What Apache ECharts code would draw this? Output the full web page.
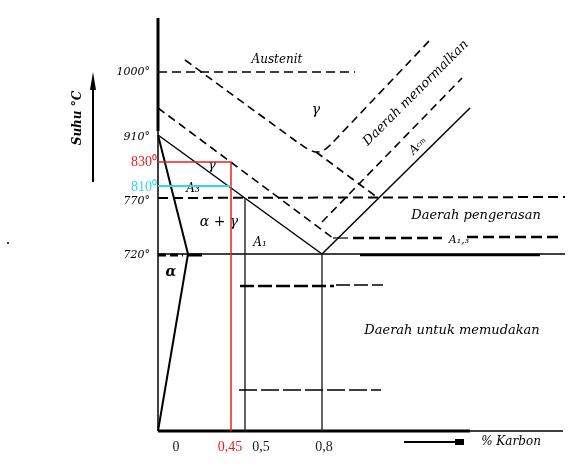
<!DOCTYPE html>
<html>
<head>
    <meta charset="UTF-8">
    <title></title>
    <script src="https://cdn.jsdelivr.net/npm/echarts@6/dist/echarts.min.js"></script>
    <style>
        html, body { margin: 0; padding: 0; background: #fff; }
        #container { width: 572px; height: 470px; }
    </style>
</head>
<body>
    <div id="container"></div>
    <script type="text/javascript">
        // diagram units: x runs right from the temperature axis, y runs up from the carbon axis
        var yLevels = [359, 294, 269, 244, 230, 176];
        var yLabels = ['1000°', '910°', '830⁰', '810⁰', '770°', '720°'];
        var xLevels = [18, 72, 103, 166];
        var xLabels = ['0', '0,45', '0,5', '0,8'];

        var axisY = [[0, 413], [0, 0]];
        var axisYTop = [[0, 413], [0, 300]];
        var axisX = [[0, 0], [405, 0]];
        var axisXThick = [[0, 0], [312, 0]];

        var alphaLine = [[0, 296], [30, 177], [0, 0]];
        var a3Line = [[0, 296], [164, 177]];
        var acmLine = [[164, 177], [312, 323]];
        var line1000 = [[0, 359], [197, 359]];
        var line770 = [[0, 233], [407, 234]];
        var line720 = [[0, 177], [407, 177]];
        var line720Dash = [[0, 176], [25, 176]];
        var line720Bold = [[30, 176], [44, 176]];
        var line720Under = [[202, 176], [382, 176]];
        var normUpper = [[27, 371], [135, 292], [145, 285], [152, 281], [158, 279], [164, 280], [170, 284], [178, 292], [272, 391]];
        var normLower = [[158, 279], [220, 233]];
        var upperA3 = [[0, 323], [175, 193]];
        var acmShift = [[164, 209], [304, 353]];
        var a13Thin = [[175, 193], [190, 193]];
        var a13Left = [[195, 193], [284, 193]];
        var a13Right = [[309, 194], [402, 194]];
        var c05 = [[87, 233], [87, 0]];
        var c08 = [[164, 177], [164, 0]];
        var red045 = [[0, 269], [73, 269], [73, 0]];
        var cyan810 = [[0, 245], [73, 245]];
        var temperThick = [[82, 145], [176, 145]];
        var temperThin = [[178, 146], [225, 146]];
        var temperLow = [[81, 41], [223, 41]];

        function seg(data, color, width, type, extra) {
            var s = {
                type: 'line',
                data: data,
                symbol: 'none',
                clip: false,
                silent: true,
                lineStyle: { color: color, width: width, type: type || 'solid' }
            };
            if (extra) {
                for (var k in extra) s[k] = extra[k];
            }
            return s;
        }

        var serif = 'DejaVu Serif';
        var times = 'Liberation Serif';

        function txt(x, y, text, size, opts) {
            opts = opts || {};
            return {
                type: 'text',
                x: x,
                y: y,
                rotation: opts.rotation || 0,
                style: {
                    text: text,
                    fontSize: size,
                    fontFamily: opts.family || serif,
                    fontStyle: opts.upright ? 'normal' : 'italic',
                    fontWeight: opts.weight || 'normal',
                    fill: opts.color || '#000',
                    align: 'center',
                    verticalAlign: 'middle',
                    rich: opts.rich
                }
            };
        }

        var colorOf = { '830⁰': 'red', '810⁰': 'cyan', '0,45': 'red' };

        var option = {
            animation: false,
            backgroundColor: '#fff',
            grid: { left: 158, top: 16, width: 410, height: 415 },
            xAxis: {
                type: 'value',
                min: 0,
                max: 410,
                axisLine: { show: false },
                axisTick: { show: false },
                splitLine: { show: false },
                axisLabel: {
                    customValues: xLevels,
                    margin: 9,
                    formatter: function (v) {
                        var t = xLabels[xLevels.indexOf(v)];
                        return '{' + (colorOf[t] || 'plain') + '|' + t + '}';
                    },
                    rich: {
                        plain: { fontFamily: times, fontSize: 14, color: '#222' },
                        red: { fontFamily: times, fontSize: 14, color: '#e8201c' }
                    }
                }
            },
            yAxis: {
                type: 'value',
                min: 0,
                max: 415,
                axisLine: { show: false },
                axisTick: { show: false },
                splitLine: { show: false },
                axisLabel: {
                    customValues: yLevels,
                    margin: 1,
                    formatter: function (v) {
                        var t = yLabels[yLevels.indexOf(v)];
                        return '{' + (colorOf[t] || 'plain') + '|' + t + '}';
                    },
                    rich: {
                        plain: { fontFamily: serif, fontStyle: 'italic', fontSize: 11, color: '#000', padding: [0, 7, 0, 0] },
                        red: { fontFamily: times, fontSize: 14, color: '#e8201c' },
                        cyan: { fontFamily: times, fontSize: 14, color: '#2ad8e8' }
                    }
                }
            },
            series: [
                seg(axisY, '#000', 1.5),
                seg(axisYTop, '#000', 3),
                seg(axisX, '#000', 1.3),
                seg(axisXThick, '#000', 3),
                seg(line720, '#000', 1.3),
                seg(line720Dash, '#000', 3, [8, 4]),
                seg(line720Bold, '#000', 3),
                seg(line720Under, '#000', 2.5),
                seg(line770, '#000', 2, [10, 5]),
                seg(line1000, '#000', 1.5, [9, 5]),
                seg(alphaLine, '#000', 2),
                seg(a3Line, '#000', 1.5),
                seg(acmLine, '#000', 1.5),
                seg(normUpper, '#000', 1.6, [8, 5], { smooth: 0.4 }),
                seg(normLower, '#000', 1.6, [8, 5]),
                seg(upperA3, '#000', 1.6, [8, 5]),
                seg(acmShift, '#000', 1.6, [8, 5]),
                seg(a13Thin, '#000', 1.2),
                seg(a13Left, '#000', 2.5, [11, 5]),
                seg(a13Right, '#000', 2.5, [11, 5]),
                seg(c05, '#222', 1.4),
                seg(c08, '#222', 1.4),
                seg(temperThick, '#000', 2.5, [14, 4]),
                seg(temperThin, '#000', 1.3, [14, 4]),
                seg(temperLow, '#000', 1.3, [18, 4]),
                seg(red045, '#e8201c', 1.5),
                seg(cyan810, '#2ad8e8', 1.8)
            ],
            graphic: [
                txt(277, 60, 'Austenit', 12),
                txt(316, 110, 'γ', 14),
                txt(212, 166, 'γ', 13),
                txt(193, 189, 'A₃', 12),
                txt(219, 222, 'α + γ', 14),
                txt(260, 243, 'A₁', 12),
                txt(171, 272, 'α', 14, { weight: 'bold' }),
                txt(416, 93, 'Daerah menormalkan', 13, { rotation: Math.PI / 4 }),
                txt(418, 146, '{a|A}{s|cm}', 12, {
                    rotation: Math.PI / 4,
                    rich: {
                        a: { fontFamily: serif, fontStyle: 'italic', fontSize: 12 },
                        s: { fontFamily: serif, fontStyle: 'italic', fontSize: 7 }
                    }
                }),
                txt(476, 216, 'Daerah pengerasan', 13),
                txt(459, 240, 'A₁,₃', 11),
                txt(452, 331, 'Daerah untuk memudakan', 13),
                txt(78, 118, 'Suhu °C', 12, { rotation: Math.PI / 2, weight: 'bold' }),
                txt(511, 442, '% Karbon', 12),
                {
                    type: 'line',
                    shape: { x1: 93, y1: 182, x2: 93, y2: 80 },
                    style: { stroke: '#000', lineWidth: 2 }
                },
                {
                    type: 'polygon',
                    shape: { points: [[90, 90], [96, 90], [93, 72]] },
                    style: { fill: '#000' }
                },
                {
                    type: 'line',
                    shape: { x1: 404, y1: 442, x2: 462, y2: 442 },
                    style: { stroke: '#000', lineWidth: 2 }
                },
                {
                    type: 'rect',
                    shape: { x: 455, y: 439, width: 9, height: 6 },
                    style: { fill: '#000' }
                },
                {
                    type: 'circle',
                    shape: { cx: 8, cy: 243, r: 1 },
                    style: { fill: '#000' }
                }
            ]
        };

        var myChart = echarts.init(document.getElementById('container'));
        myChart.setOption(option);
    </script>
</body>
</html>
